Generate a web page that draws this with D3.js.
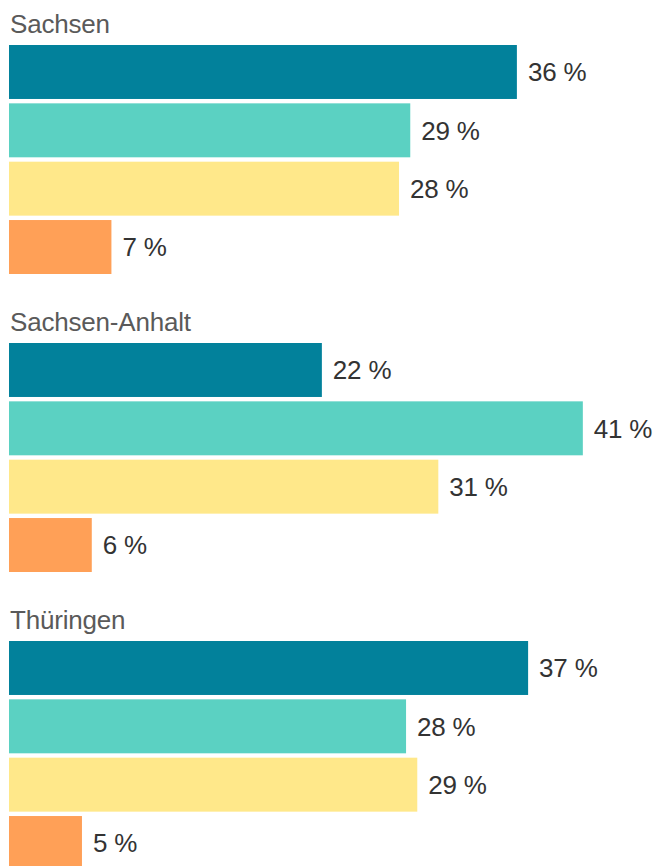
<!DOCTYPE html>
<html>
<head>
<meta charset="utf-8">
<script src="https://cdn.jsdelivr.net/npm/d3@7"></script>
<style>
  html, body { margin: 0; padding: 0; background: #fff; }
  svg { display: block; font-family: "Liberation Sans", Arial, Helvetica, sans-serif; }
</style>
</head>
<body>
<svg id="chart" width="657" height="866"></svg>
<script>
const states = ["Sachsen", "Sachsen-Anhalt", "Thüringen"];
const seriesKeys = ["s1", "s2", "s3", "s4"];
const seriesColors = ["#02819b", "#5bd1c2", "#ffe88a", "#ffa057"];
const valuesSachsen = [36.2, 28.6, 27.8, 7.3];
const valuesSachsenAnhalt = [22.3, 40.9, 30.6, 5.9];
const valuesThueringen = [37.0, 28.3, 29.1, 5.2];

const valuesByState = [valuesSachsen, valuesSachsenAnhalt, valuesThueringen];
const data = states.map((s, i) => ({
  state: s,
  bars: seriesKeys.map((k, j) => ({ key: k, value: valuesByState[i][j], color: seriesColors[j] }))
}));

const svg = d3.select("#chart");

const x = d3.scaleLinear().domain([0, 40]).range([9, 570.2]);
const yGroup = d3.scaleBand().domain(states).range([45, 45 + 3 * 298]).paddingInner(0);
const yBar = d3.scaleBand().domain(seriesKeys).range([0, 229]).paddingInner(0.075).paddingOuter(0);

const groups = svg.selectAll("g.group").data(data).join("g")
  .attr("class", "group")
  .attr("transform", d => `translate(0,${yGroup(d.state)})`);

groups.append("text")
  .attr("x", 10)
  .attr("y", -12)
  .attr("fill", "#5a5a5a")
  .attr("font-size", 26)
  .attr("letter-spacing", "-0.2")
  .text(d => d.state);

groups.selectAll("rect").data(d => d.bars).join("rect")
  .attr("x", x(0))
  .attr("y", d => yBar(d.key))
  .attr("width", d => x(d.value) - x(0))
  .attr("height", yBar.bandwidth())
  .attr("fill", d => d.color);

groups.selectAll("text.label").data(d => d.bars).join("text")
  .attr("class", "label")
  .attr("x", d => x(d.value) + 11)
  .attr("y", d => yBar(d.key) + yBar.bandwidth() / 2)
  .attr("dy", "0.36em")
  .attr("fill", "#333")
  .attr("font-size", 26)
  .attr("letter-spacing", "-0.2")
  .text(d => Math.round(d.value) + " %");
</script>
</body>
</html>
